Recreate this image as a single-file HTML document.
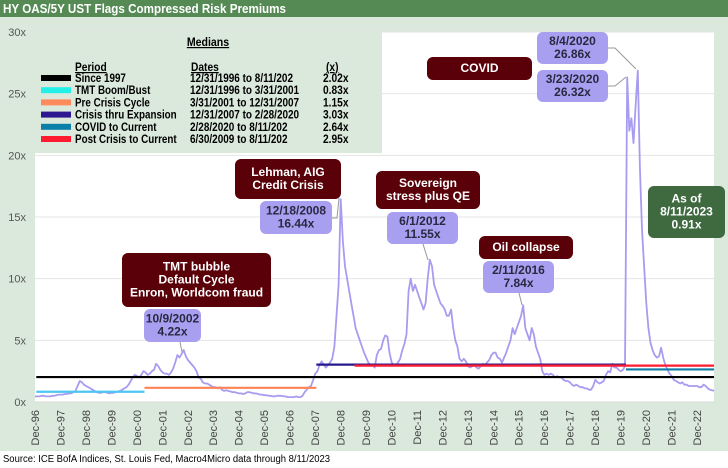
<!DOCTYPE html>
<html><head><meta charset="utf-8">
<style>
html,body{margin:0;padding:0;background:#fff;}
svg{display:block;font-family:"Liberation Sans",Arial,sans-serif;}
</style></head>
<body>
<svg id="chart" width="728" height="468" viewBox="0 0 728 468" xmlns="http://www.w3.org/2000/svg">
  <rect x="0" y="0" width="728" height="451" fill="#dbe8dc"/>
  <rect x="0" y="0" width="728" height="17" fill="#558a55"/>
  <text x="3" y="13" fill="#fff" font-size="13" font-weight="bold" textLength="283" lengthAdjust="spacingAndGlyphs">HY OAS/5Y UST Flags Compressed Risk Premiums</text>
  <rect x="35" y="32" width="679" height="370" fill="#fff"/>
  <g id="grid"></g>
  <g id="yaxis"></g>
  <g id="xaxis"></g>
  <rect x="35" y="32" width="347" height="121" fill="#dbe8dc"/>
  <g id="series"></g>
  <g id="medians"></g>
  <g id="legend"></g>
  <g id="annotations"></g>
  <text x="3" y="462" font-size="10" fill="#000" textLength="327" lengthAdjust="spacingAndGlyphs">Source: ICE BofA Indices, St. Louis Fed, Macro4Micro     data through 8/11/2023</text>
</svg>
<script>
// ---- data ----
const startYear = 1997; // monthly values from Jan 1997
const ratioValues = [
 0.45,0.45,0.5,0.5,0.45,0.45,0.45,0.5,0.5,0.55,0.6,0.6,
 0.6,0.65,0.65,0.7,0.7,0.8,0.9,1.3,1.7,1.6,1.4,1.3,
 1.2,1.1,1.0,0.9,0.8,0.75,0.75,0.8,0.8,0.75,0.7,0.75,
 0.75,0.8,0.85,0.9,1.0,1.1,1.2,1.4,1.7,2.0,2.2,2.1,
 2.0,2.2,2.5,2.4,2.2,2.3,2.5,2.6,3.1,2.9,2.6,2.4,
 2.3,2.3,2.2,2.4,2.7,3.2,3.8,3.6,3.9,4.22,3.7,3.4,
 3.2,3.0,2.8,2.5,2.0,1.9,1.6,1.5,1.5,1.4,1.3,1.2,
 1.2,1.1,1.2,1.0,0.9,0.95,0.9,0.85,0.8,0.8,0.75,0.7,
 0.7,0.65,0.7,0.8,0.8,0.75,0.7,0.7,0.65,0.6,0.6,0.55,
 0.55,0.5,0.5,0.45,0.45,0.5,0.5,0.5,0.45,0.45,0.4,0.4,
 0.4,0.4,0.45,0.4,0.4,0.5,0.8,1.0,1.2,1.3,1.8,2.3,
 2.5,3.0,3.3,3.0,2.8,3.0,3.2,3.5,4.5,7,9.5,16.44,
 13,11,10,9,8,7,6,5.5,5,4.5,4.0,3.6,
 3.2,3.0,3.0,2.8,3.8,4.2,4.3,5.0,5.4,5.3,4.0,3.2,
 3.0,3.0,3.2,3.5,4.2,4.7,5.5,9,10,9,9.5,9,
 8.5,8,7.5,8,10,11.55,11,9.5,9,8.5,8,7.8,
 7.5,7,7,7.5,6,5,4.5,3.5,3.3,3.5,3.3,2.9,
 2.8,2.9,3.0,2.8,2.7,2.9,3.1,3.0,3.2,3.4,3.8,4.0,
 4.0,3.6,3.5,3.2,3.6,4.0,4.5,5.0,6.0,5.5,6.0,6.5,
 7.0,7.84,6.0,5.5,5.0,6.0,5.5,4.5,4.0,3.5,2.5,2.2,
 2.3,2.2,2.3,2.2,2.0,2.1,2.0,2.0,1.8,1.7,1.7,1.6,
 1.4,1.3,1.4,1.3,1.2,1.2,1.1,1.1,1.0,1.0,1.3,1.8,
 1.6,1.5,1.6,1.7,2.2,2.5,2.4,3.1,2.8,2.8,2.6,2.5,
 2.6,2.9,26.32,22,23,21,24,26.86,19,14,11,8,
 6,4.8,4.2,3.8,3.6,3.7,4.4,3.6,3.0,2.6,2.3,2.1,
 1.8,1.7,1.6,1.5,1.6,1.4,1.4,1.3,1.3,1.3,1.3,1.3,
 1.2,1.2,1.4,1.3,1.1,1.0,0.95,0.91
];
const yTicks = [0,5,10,15,20,25,30];
const xTickYears = [96,97,98,99,0,1,2,3,4,5,6,7,8,9,10,11,12,13,14,15,16,17,18,19,20,21,22];
const medNames = ["Since 1997","TMT Boom/Bust","Pre Crisis Cycle","Crisis thru Expansion","COVID to Current","Post Crisis to Current"];
const medDates = ["12/31/1996 to 8/11/202","12/31/1996 to 3/31/2001","3/31/2001 to 12/31/2007","12/31/2007 to 2/28/2020","2/28/2020 to  8/11/202","6/30/2009 to  8/11/202"];
const medValues = [2.02,0.83,1.15,3.03,2.64,2.95];
const medStart = [1997.0,1997.0,2001.25,2008.0,2020.16,2009.5];
const medEnd = [2023.62,2001.25,2008.0,2020.16,2023.62,2023.62];
const medColors = ["#000000","#4cc6f2","#ff8355","#241a8c","#0e7ea6","#ff1a30"];
const swatchColors = ["#000000","#22f0e6","#ff8a5c","#2e1890","#0a7fa8","#ff1a30"];

// ---- scales ----
const x0 = 35, pxPerYear = 25.46, t0 = 1996.95;
function xScale(t){ return x0 + (t - t0) * pxPerYear; }
function yScale(v){ return 402 - v * 370 / 30; }
const NS = "http://www.w3.org/2000/svg";
function mk(tag, attrs, parent){ const e=document.createElementNS(NS,tag); for(const k in attrs) e.setAttribute(k,attrs[k]); parent.appendChild(e); return e; }

const grid=document.getElementById('grid'), yaxis=document.getElementById('yaxis');
yTicks.forEach(v=>{
  if(v>0){ const g=mk('line',{x1:35,x2:714,y1:yScale(v),y2:yScale(v),stroke:'#e4e4e4','stroke-width':1},grid);
    
     }
  const t=mk('text',{x:26,y:yScale(v)+4,'text-anchor':'end','font-size':11,fill:'#555'},yaxis);
  t.textContent=v+'x';
  
  
});
const ax=mk('line',{x1:35,x2:714,y1:402,y2:402,stroke:'#d8d8d8','stroke-width':1},yaxis);



const xaxis=document.getElementById('xaxis');
xTickYears.forEach((yy,i)=>{
  const full = yy>=90 ? 1900+yy : 2000+yy;
  const x = xScale(full + 0.95);
  const t=mk('text',{x:0,y:0,'text-anchor':'end','font-size':11,fill:'#444',transform:`translate(${x+4},410) rotate(-90)`},xaxis);
  t.textContent='Dec-'+String(yy).padStart(2,'0');
  
  
});

const series=document.getElementById('series');
let d='M'+xScale(t0).toFixed(1)+','+yScale(ratioValues[0]).toFixed(1);
ratioValues.forEach((v,i)=>{ d+=' L'+xScale(startYear+(i+0.5)/12).toFixed(1)+','+yScale(v).toFixed(1); });
const p=mk('path',{d:d,fill:'none',stroke:'#a79cf0','stroke-width':1.8,'stroke-linejoin':'round'},series);



const med=document.getElementById('medians');
medValues.forEach((v,i)=>{
  const l=mk('line',{x1:xScale(medStart[i]),x2:xScale(medEnd[i]),y1:yScale(v),y2:yScale(v),stroke:medColors[i],'stroke-width':2.2},med);
  
  
});

// legend (narrow font emulation: compress natural width)
const lg=document.getElementById('legend');
function txt(x,y,s,attrs,parent,name,squeeze){
  const t=mk('text',Object.assign({x:x,y:y,'font-size':12,'font-weight':'bold',fill:'#000'},attrs||{}),parent); t.textContent=s;
  
  
  if(squeeze){ const w=t.getComputedTextLength(); if(w>0){ t.setAttribute('textLength',(w*squeeze).toFixed(1)); t.setAttribute('lengthAdjust','spacingAndGlyphs'); } }
  return t; }
txt(208,46,'Medians',{'text-anchor':'middle','text-decoration':'underline'},lg,'legend-title',0.88);
txt(75,71,'Period',{'text-decoration':'underline'},lg,'legend-header-period',0.85);
txt(191,71,'Dates',{'text-decoration':'underline'},lg,'legend-header-dates',0.85);
txt(326,71,'(x)',{'text-decoration':'underline'},lg,'legend-header-x',0.85);
medNames.forEach((n,i)=>{
  const y=82+i*12.2;
  const sw=mk('rect',{x:41,y:y-7,width:30,height:6,fill:swatchColors[i]},lg);
  
  
  txt(75,y,n,{},lg,'legend-entry-name',0.82);
  txt(190,y,medDates[i],{},lg,'legend-entry-dates',0.83);
  txt(323,y,medValues[i].toFixed(2)+'x',{},lg,'legend-entry-value',0.85);
});

const an=document.getElementById('annotations');
function box(x,y,w,h,fill,lines,color,name){
  const r=mk('rect',{x:x,y:y,width:w,height:h,rx:6,fill:fill},an);
  
  
  const lh=13, top=y+h/2-(lines.length*lh)/2+10;
  lines.forEach((s,i)=>{ const t=mk('text',{x:x+w/2,y:top+i*lh,'text-anchor':'middle','font-size':12,'font-weight':'bold',fill:color},an); t.textContent=s;
    
     });
}
function conn(pts){ const l=mk('polyline',{points:pts,fill:'none',stroke:'#999','stroke-width':1},an);
  
   }
const MAR='#5a0008', PUR='#a99ff0', PT='#2a2840';
conn('180,342 182,352'); conn('332,218 337,218 339,198'); conn('423,244 428,260');
conn('608,48 615,48 636,69'); conn('608,86 615,86 626,77'); conn('519,293 522,305');
box(122,253,149,54,MAR,['TMT bubble','Default Cycle','Enron, Worldcom fraud'],'#fff','tmt-callout');
box(144,309,57,33,PUR,['10/9/2002','4.22x'],PT,'tmt-peak-label');
box(235,159,106,40,MAR,['Lehman, AIG','Credit Crisis'],'#fff','lehman-callout');
box(260,201,72,33,PUR,['12/18/2008','16.44x'],PT,'lehman-peak-label');
box(376,171,104,38,MAR,['Sovereign','stress plus QE'],'#fff','sovereign-callout');
box(387,212,71,32,PUR,['6/1/2012','11.55x'],PT,'sovereign-peak-label');
box(427,57,105,23,MAR,['COVID'],'#fff','covid-callout');
box(537,32,71,32,PUR,['8/4/2020','26.86x'],PT,'covid-peak-label-aug');
box(537,70,71,32,PUR,['3/23/2020','26.32x'],PT,'covid-peak-label-mar');
box(479,236,94,23,MAR,['Oil collapse'],'#fff','oil-callout');
box(483,261,71,32,PUR,['2/11/2016','7.84x'],PT,'oil-peak-label');
box(648,186,77,52,'#3f6a40',['As of','8/11/2023','0.91x'],'#fff','latest-value-callout');
</script>
</body></html>
